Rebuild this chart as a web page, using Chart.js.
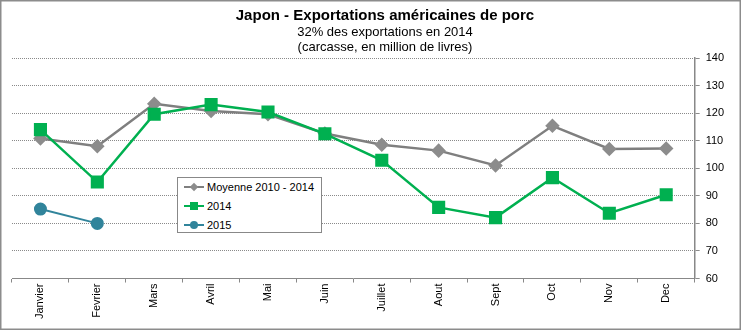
<!DOCTYPE html>
<html>
<head>
<meta charset="utf-8">
<script src="https://cdn.jsdelivr.net/npm/chart.js@4/dist/chart.umd.min.js"></script>
<style>
  body { margin: 0; background: #fff; }
  #wrap { position: relative; width: 741px; height: 330px; font-family: 'Liberation Sans', Arial, sans-serif; color: #000; }
  #titres { position: absolute; left: 0; top: 6px; width: 770px; text-align: center; }
  #titres .t1 { font-size: 15px; font-weight: bold; line-height: 18px; }
  #titres .t2 { font-size: 13px; line-height: 15px; }
  #legend {
    position: absolute; left: 177px; top: 177px; width: 143px; height: 54px;
    border: 1px solid #888; background: #fff; font-size: 11px;
  }
  .row { position: absolute; left: 6px; width: 136px; height: 14px; line-height: 14px; white-space: nowrap; }
  .sample { position: absolute; left: 0; top: 6px; width: 20px; height: 2px; }
  .mk { position: absolute; left: 50%; top: 50%; }
  .row span.txt { position: absolute; left: 23px; top: 0; }
</style>
</head>
<body>
<div id="wrap">
  <canvas id="chart" width="741" height="330"></canvas>
  <div id="titres">
    <div class="t1">Japon - Exportations américaines de porc</div>
    <div class="t2">32% des exportations en 2014</div>
    <div class="t2">(carcasse, en million de livres)</div>
  </div>
  <div id="legend"></div>
</div>
<script>
// données
const mois = ['Janvier', 'Fevrier', 'Mars', 'Avril', 'Mai', 'Juin', 'Juillet', 'Aout', 'Sept', 'Oct', 'Nov', 'Dec'];
const moyenne = [110.8, 108, 123.4, 120.8, 119.6, 112.6, 108.5, 106.4, 101, 115.4, 107, 107.2];
const an2014 = [114, 95, 119.6, 123.1, 120.4, 112.5, 102.9, 85.8, 82.1, 96.6, 83.7, 90.4];
const an2015 = [85.2, 80, null, null, null, null, null, null, null, null, null, null];
const yTicks = [60, 70, 80, 90, 100, 110, 120, 130, 140];

const FONT = "'Liberation Sans', Arial, sans-serif";

const series = [
  { label: 'Moyenne 2010 - 2014', data: moyenne, color: '#7f7f7f', marker: '#8c8c8c', style: 'rectRot', r: 5.5, w: 2.5, order: 3 },
  { label: '2014', data: an2014, color: '#00b050', marker: '#00b050', style: 'rect', r: 7.5, w: 2.5, order: 2 },
  { label: '2015', data: an2015, color: '#31849b', marker: '#31849b', style: 'circle', r: 5.5, w: 2, order: 1 }
];

// cadre extérieur
const frame = {
  id: 'frame',
  afterDraw(chart) {
    const ctx = chart.ctx;
    ctx.save();
    ctx.strokeStyle = '#8c8c8c';
    ctx.lineWidth = 1.5;
    ctx.strokeRect(0.75, 0.75, chart.width - 1.5, chart.height - 1.5);
    ctx.restore();
  }
};

new Chart(document.getElementById('chart'), {
  type: 'line',
  data: {
    labels: mois,
    datasets: series.map(s => ({
      label: s.label,
      data: s.data,
      borderColor: s.color,
      backgroundColor: s.marker,
      pointBackgroundColor: s.marker,
      pointBorderColor: s.marker,
      pointStyle: s.style,
      pointRadius: s.r,
      borderWidth: s.w,
      tension: 0,
      spanGaps: false,
      order: s.order
    }))
  },
  options: {
    responsive: false,
    animation: false,
    layout: { padding: { left: 12, right: 11, bottom: 10, top: 58 } },
    plugins: {
      legend: { display: false },
      tooltip: { enabled: false }
    },
    scales: {
      x: {
        offset: true,
        grid: { offset: true, drawOnChartArea: false, drawTicks: true, tickLength: 4, color: '#888' },
        border: { color: '#888', width: 1 },
        ticks: { color: '#000', font: { family: FONT, size: 11 }, minRotation: 90, maxRotation: 90, padding: 1 }
      },
      y: {
        position: 'right',
        min: 60,
        max: 140,
        afterBuildTicks: axis => { axis.ticks = yTicks.map(v => ({ value: v })); },
        grid: { color: '#8a8a8a', lineWidth: 1, tickLength: 5 },
        border: { color: '#888', width: 1.5, dash: [1, 1] },
        ticks: { color: '#000', font: { family: FONT, size: 11 }, padding: 6 }
      }
    }
  },
  plugins: [frame]
});

// légende HTML placée dans la zone du graphique
const legend = document.getElementById('legend');
series.forEach((s, i) => {
  const row = document.createElement('div');
  row.className = 'row';
  row.style.top = (2 + i * 19) + 'px';
  let mk = '';
  if (s.style === 'rectRot') {
    mk = `<span class="mk" style="width:6px;height:6px;margin:-3px 0 0 -3px;background:${s.marker};transform:rotate(45deg)"></span>`;
  } else if (s.style === 'rect') {
    mk = `<span class="mk" style="width:8px;height:8px;margin:-4px 0 0 -4px;background:${s.marker}"></span>`;
  } else {
    mk = `<span class="mk" style="width:8px;height:8px;margin:-4px 0 0 -4px;border-radius:50%;background:${s.marker}"></span>`;
  }
  row.innerHTML = `<span class="sample" style="background:${s.color}">${mk}</span><span class="txt">${s.label}</span>`;
  legend.appendChild(row);
});
</script>
</body>
</html>
